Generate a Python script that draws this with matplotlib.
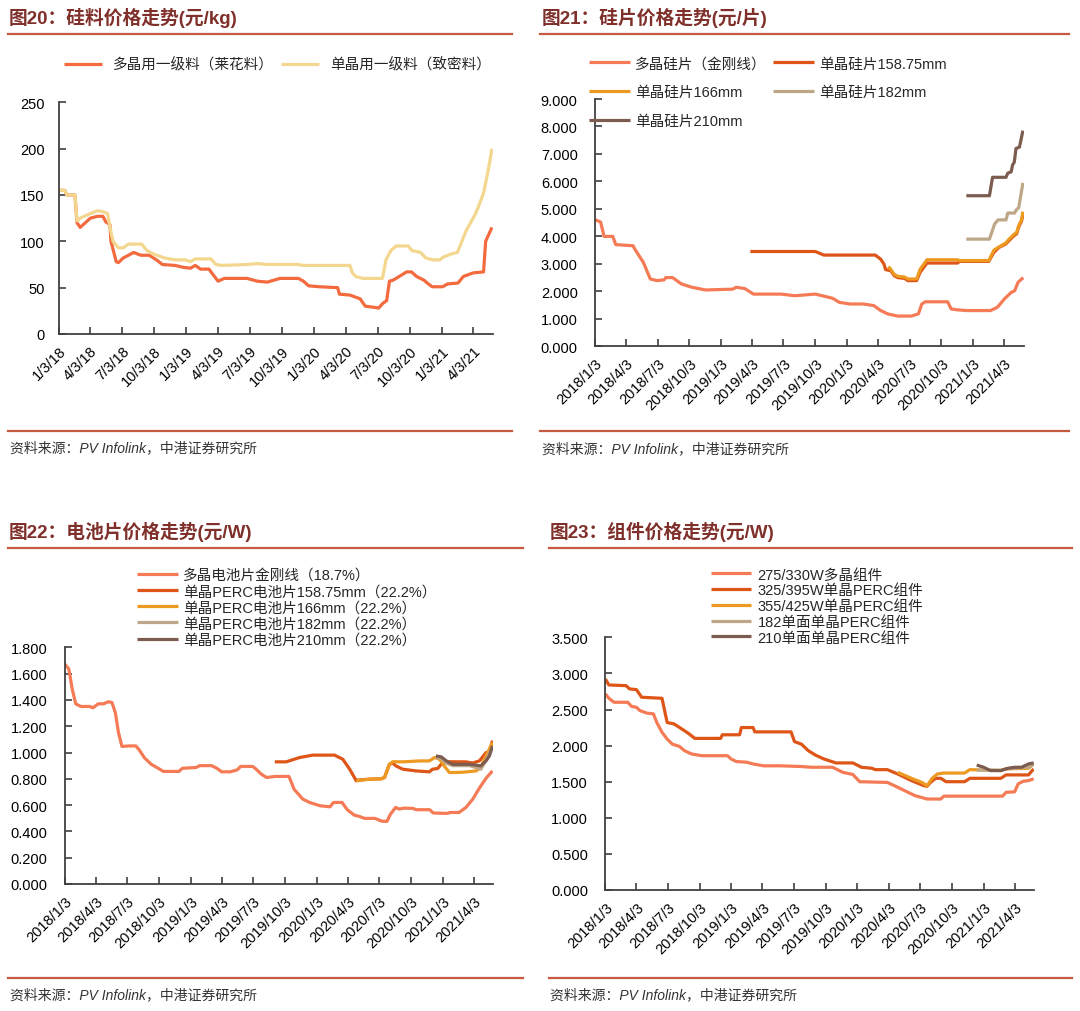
import numpy as np
import pandas as pd
import matplotlib
matplotlib.use('Agg')
import matplotlib.pyplot as plt
from matplotlib.lines import Line2D

plt.rcParams['font.family'] = ['Liberation Sans', 'Noto Sans CJK SC']
plt.rcParams['axes.unicode_minus'] = False

# ---------------- data (x = days since 2018-01-03) ----------------
BASE = '2018-01-03'

# Fig 20 silicon material (yuan/kg)
d20_poly = [0,18,24,47,53,62,91,112,127,135,147,150,165,171,185,215,235,259,280,297,
            333,356,377,391,406,430,450,456,474,539,568,597,633,686,700,715,745,798,803,833,
            862,877,898,915,927,938,946,956,965,995,1009,1024,1045,1054,1068,1098,1112,1142,1157,1171,
            1186,1215,1221,1239]
v20_poly = [155,155,150,150,120,115,125,127,127,121,118,100,78,77,82,88,85,85,80,75,
            74,72,71,74,70,70,60,57,60,60,57,56,60,60,57,52,51,50,43,42,
            38,30,29,28,33,36,57,58,60,67,67,62,58,55,51,51,54,55,62,64,
            66,67,100,115]
d20_mono = [0,18,24,47,53,62,91,112,127,140,150,156,171,185,200,238,253,274,303,333,
            362,377,391,436,450,465,539,568,597,686,700,833,840,850,870,926,936,950,965,1000,
            1010,1035,1050,1070,1090,1100,1120,1140,1148,1157,1166,1191,1200,1215,1230,1239]
v20_mono = [155,155,150,150,122,125,130,133,132,130,110,100,93,93,97,97,90,86,82,80,
            80,78,81,81,75,74,75,76,75,75,74,74,66,62,60,60,80,90,95,95,
            90,88,82,80,80,83,86,88,95,104,112,129,137,152,180,200]

# Fig 21 wafers (yuan/piece)
d21_poly = [0,16,26,51,60,110,115,140,160,180,200,205,225,250,280,320,399,409,434,459,
            539,579,638,648,688,708,738,778,808,828,848,877,917,937,947,957,1022,1032,1047,1077,
            1146,1166,1186,1206,1216,1226,1241]
v21_poly = [4.61,4.52,4.0,4.0,3.7,3.66,3.54,3.05,2.45,2.39,2.42,2.5,2.5,2.27,2.15,2.05,2.08,2.15,2.1,1.9,
            1.9,1.84,1.9,1.87,1.75,1.6,1.54,1.54,1.48,1.3,1.18,1.1,1.1,1.18,1.54,1.62,1.62,1.36,1.33,1.3,
            1.3,1.42,1.72,1.96,2.02,2.33,2.5]
d21_m158 = [450,638,648,663,812,827,837,842,857,867,877,897,907,932,942,962,1051,1056,1141,1156,
            1171,1190,1200,1212,1222,1228,1236,1240]
v21_m158 = [3.45,3.45,3.4,3.32,3.32,3.18,3.0,2.79,2.75,2.57,2.5,2.47,2.39,2.39,2.69,3.03,3.03,3.09,3.09,3.42,
            3.6,3.72,3.85,4.0,4.1,4.35,4.55,4.8]
d21_m166 = [850,857,867,877,897,907,932,942,962,1051,1056,1141,1156,1171,1190,1200,1212,1222,1228,1236,1240]
v21_m166 = [2.9,2.8,2.62,2.55,2.52,2.45,2.45,2.8,3.15,3.15,3.12,3.12,3.5,3.62,3.76,3.9,4.05,4.15,4.4,4.6,4.9]
d21_m182 = [1076,1143,1158,1168,1191,1196,1216,1220,1228,1240]
v21_m182 = [3.9,3.9,4.45,4.6,4.6,4.85,4.85,4.95,5.05,5.95]
d21_m210 = [1076,1143,1152,1191,1196,1206,1210,1215,1220,1230,1240]
v21_m210 = [5.48,5.48,6.15,6.15,6.3,6.35,6.6,6.7,7.2,7.25,7.85]

# Fig 22 cells (yuan/W)
d22_poly = [0,12,22,32,47,72,82,87,97,112,127,137,147,156,166,186,206,216,231,251,
            271,286,331,341,381,391,426,441,455,480,500,510,545,555,570,585,610,650,665,690,
            710,740,769,779,804,819,839,854,869,899,909,919,934,944,959,969,984,1009,1019,1058,
            1068,1108,1118,1143,1163,1183,1203,1223,1240]
v22_poly = [1.673,1.635,1.48,1.37,1.35,1.35,1.34,1.35,1.37,1.37,1.386,1.38,1.30,1.15,1.046,1.05,1.05,1.02,0.96,0.91,
            0.88,0.856,0.856,0.88,0.886,0.9,0.9,0.88,0.853,0.853,0.868,0.894,0.894,0.873,0.835,0.81,0.818,0.818,0.72,0.646,
            0.62,0.595,0.587,0.62,0.62,0.565,0.524,0.514,0.499,0.499,0.489,0.478,0.476,0.53,0.582,0.57,0.577,0.575,0.565,0.565,
            0.54,0.537,0.544,0.544,0.582,0.646,0.734,0.81,0.86]
d22_m158 = [609,642,681,719,782,806,826,845,848,883,917,927,941,951,960,980,1018,1057,1066,1081,
            1091,1105,1144,1163,1182,1202,1221,1230,1240]
v22_m158 = [0.929,0.929,0.962,0.98,0.98,0.949,0.873,0.785,0.79,0.797,0.80,0.81,0.91,0.92,0.898,0.873,0.86,0.853,0.873,0.878,
            0.91,0.93,0.929,0.929,0.92,0.936,0.999,1.0,1.09]
d22_m166 = [845,883,917,927,941,951,980,1028,1057,1072,1086,1100,1115,1134,1154,1192,1206,1221,1240]
v22_m166 = [0.785,0.797,0.80,0.81,0.91,0.93,0.929,0.936,0.936,0.962,0.95,0.898,0.848,0.848,0.85,0.86,0.886,0.974,1.076]
d22_m182 = [1076,1091,1105,1125,1173,1192,1206,1221,1240]
v22_m182 = [0.96,0.955,0.92,0.9,0.9,0.886,0.873,0.94,1.04]
d22_m210 = [1076,1091,1110,1125,1173,1192,1206,1221,1231,1240]
v22_m210 = [0.974,0.967,0.929,0.91,0.91,0.904,0.898,0.936,0.974,1.05]

# Fig 23 modules (yuan/W)
d23_poly = [0,10,25,65,75,90,100,120,139,149,164,179,194,214,229,249,279,354,364,379,
            409,428,458,508,568,598,658,668,688,717,737,817,837,867,897,932,972,981,1151,1161,
            1186,1196,1211,1226,1241]
v23_poly = [2.716,2.656,2.60,2.60,2.545,2.53,2.485,2.45,2.44,2.32,2.185,2.09,2.02,1.99,1.93,1.885,1.86,1.86,1.815,1.78,
            1.77,1.746,1.72,1.72,1.71,1.70,1.70,1.677,1.63,1.60,1.50,1.49,1.446,1.376,1.307,1.26,1.26,1.30,1.30,1.353,
            1.36,1.47,1.506,1.515,1.54]
d23_m325 = [0,10,60,70,90,105,164,179,199,239,259,334,339,389,394,428,433,538,548,568,
            588,608,633,668,717,723,742,772,782,817,847,887,922,932,942,957,972,987,1041,1056,
            1146,1161,1226,1241]
v23_m325 = [2.923,2.84,2.83,2.785,2.775,2.67,2.655,2.32,2.30,2.175,2.10,2.10,2.15,2.15,2.25,2.25,2.19,2.19,2.055,2.02,
            1.93,1.87,1.815,1.76,1.76,1.746,1.70,1.686,1.667,1.667,1.607,1.515,1.446,1.436,1.49,1.547,1.547,1.50,1.50,1.547,
            1.547,1.594,1.594,1.677]
d23_m355 = [847,887,917,932,947,962,981,1041,1056,1146,1161,1226,1241]
v23_m355 = [1.63,1.547,1.49,1.446,1.547,1.607,1.62,1.62,1.667,1.654,1.677,1.686,1.746]
d23_m182 = [1076,1146,1166,1226,1241]
v23_m182 = [1.66,1.66,1.68,1.70,1.74]
d23_m210 = [1076,1096,1116,1146,1166,1186,1206,1226,1241]
v23_m210 = [1.73,1.70,1.654,1.654,1.686,1.70,1.70,1.746,1.76]

labels_x20 = ['1/3/18','4/3/18','7/3/18','10/3/18','1/3/19','4/3/19','7/3/19','10/3/19',
              '1/3/20','4/3/20','7/3/20','10/3/20','1/3/21','4/3/21']
labels_x = ['2018/1/3','2018/4/3','2018/7/3','2018/10/3','2019/1/3','2019/4/3','2019/7/3','2019/10/3',
            '2020/1/3','2020/4/3','2020/7/3','2020/10/3','2021/1/3','2021/4/3']

names20 = ['多晶用一级料（莱花料）', '单晶用一级料（致密料）']
names21 = ['多晶硅片（金刚线）', '单晶硅片158.75mm', '单晶硅片166mm', '单晶硅片182mm', '单晶硅片210mm']
names22 = ['多晶电池片金刚线（18.7%）', '单晶PERC电池片158.75mm（22.2%）', '单晶PERC电池片166mm（22.2%）',
           '单晶PERC电池片182mm（22.2%）', '单晶PERC电池片210mm（22.2%）']
names23 = ['275/330W多晶组件', '325/395W单晶PERC组件', '355/425W单晶PERC组件',
           '182单面单晶PERC组件', '210单面单晶PERC组件']
titles = ['图20：硅料价格走势(元/kg)', '图21：硅片价格走势(元/片)',
          '图22：电池片价格走势(元/W)', '图23：组件价格走势(元/W)']
source = '资料来源：PV Infolink，中港证券研究所'

# ---------------- styling ----------------
C_POLY = '#F47B55'
C_158 = '#DE5518'
C_166 = '#ED9A22'
C_182 = '#BEA688'
C_210 = '#7D5C50'
C20_POLY = '#F26A3E'
C20_MONO = '#F3D78E'
TITLE_C = '#80302B'
RULE_C = '#C65A40'
SPINE_C = '#404040'
LEG_FS = 10.5

W, H = 1080, 1012
fig = plt.figure(figsize=(W / 100, H / 100), dpi=100)


def rect(l, t, r, b):
    return [l / W, 1 - b / H, (r - l) / W, (b - t) / H]


def fx(x):
    return x / W


def fy(y):
    return 1 - y / H


base = pd.Timestamp(BASE)
tick_dates = [base + pd.DateOffset(months=3 * k) for k in range(14)]
x_end = base + pd.Timedelta(days=1242)


def dates(days):
    return base + pd.to_timedelta(np.asarray(days), unit='D')


def style(ax, ymax, ystep, fmt, xlabels, ypad):
    for s in ['top', 'right']:
        ax.spines[s].set_visible(False)
    for s in ['left', 'bottom']:
        ax.spines[s].set_color(SPINE_C)
        ax.spines[s].set_linewidth(1.3)
    yt = np.arange(0, ymax + ystep / 2, ystep)
    ax.set_ylim(0, ymax)
    ax.set_yticks(yt)
    ax.set_yticklabels([fmt.format(v) for v in yt])
    ax.set_xticks(tick_dates)
    ax.set_xticklabels(xlabels, rotation=45, ha='right', va='top', rotation_mode='anchor')
    ax.set_xlim(base, x_end)
    ax.tick_params(direction='in', length=5, width=1.2, color=SPINE_C, labelsize=10.5, labelcolor='black')
    ax.tick_params(axis='y', pad=ypad)
    ax.tick_params(axis='x', pad=7)
    ax.patch.set_alpha(0)


def rule(x0, x1, y):
    fig.add_artist(Line2D([fx(x0), fx(x1)], [fy(y), fy(y)], transform=fig.transFigure,
                          color=RULE_C, lw=1.6))


def header(x, y, text, x0, x1, yb, xs):
    fig.text(fx(x), fy(y), text, fontsize=13.5, fontweight='bold', color=TITLE_C, va='center', ha='left')
    rule(x0, x1, 34.5 if y < 300 else 549)
    rule(x0, x1, yb)
    fig.text(fx(xs), fy(yb + 16.5), source, fontsize=10, style='italic', color='#333333', va='center', ha='left')


LW = 2.3
kw = dict(lw=LW, solid_joinstyle='round', solid_capstyle='butt')
legkw = dict(bbox_transform=fig.transFigure, frameon=False, fontsize=LEG_FS, borderpad=0,
             borderaxespad=0, labelcolor='#262626')

# ---- Fig 20 ----
ax20 = fig.add_axes(rect(58.5, 103.3, 493, 335))
l1, = ax20.plot(dates(d20_poly), v20_poly, color=C20_POLY, **kw)
l2, = ax20.plot(dates(d20_mono), v20_mono, color=C20_MONO, **kw)
style(ax20, 250, 50, '{:.0f}', labels_x20, 10)
ax20.legend([l1, l2], names20, loc='center left', bbox_to_anchor=(fx(64), fy(65.5)), ncol=2,
            handlelength=2.6, handletextpad=0.75, columnspacing=0.5, **legkw)
header(8.6, 18.3, titles[0], 8, 512, 431.7, 10)

# ---- Fig 21 ----
ax21 = fig.add_axes(rect(595.1, 100, 1023.6, 347.3))
a, = ax21.plot(dates(d21_poly), v21_poly, color=C_POLY, **kw)
b, = ax21.plot(dates(d21_m158), v21_m158, color=C_158, **kw)
c, = ax21.plot(dates(d21_m166), v21_m166, color=C_166, **kw)
d, = ax21.plot(dates(d21_m182), v21_m182, color=C_182, **kw)
e, = ax21.plot(dates(d21_m210), v21_m210, color=C_210, **kw)
style(ax21, 9, 1, '{:.3f}', labels_x, 12.5)
ax21.legend([a, c, e, b, d], [names21[0], names21[2], names21[4], names21[1], names21[3]],
            loc='upper left', bbox_to_anchor=(fx(589), fy(57.5)), ncol=2, handlelength=2.8,
            handletextpad=0.35, columnspacing=0.45, labelspacing=1.0, **legkw)
header(541.5, 18.3, titles[1], 540, 1068.6, 432.3, 541.5)

# ---- Fig 22 ----
ax22 = fig.add_axes(rect(64.7, 648.3, 493.2, 885))
hs = []
for dd, vv, cc in [(d22_poly, v22_poly, C_POLY), (d22_m158, v22_m158, C_158), (d22_m166, v22_m166, C_166),
                   (d22_m182, v22_m182, C_182), (d22_m210, v22_m210, C_210)]:
    h, = ax22.plot(dates(dd), vv, color=cc, **kw)
    hs.append(h)
style(ax22, 1.8, 0.2, '{:.3f}', labels_x, 12.5)
ax22.legend(hs, names22, loc='upper left', bbox_to_anchor=(fx(137), fy(569)), ncol=1,
            handlelength=2.8, handletextpad=0.35, labelspacing=0.15, **legkw)
header(8.6, 531.7, titles[2], 8, 523.4, 979, 10)

# ---- Fig 23 ----
ax23 = fig.add_axes(rect(605.4, 638.3, 1034, 891))
hs = []
for dd, vv, cc in [(d23_poly, v23_poly, C_POLY), (d23_m325, v23_m325, C_158), (d23_m355, v23_m355, C_166),
                   (d23_m182, v23_m182, C_182), (d23_m210, v23_m210, C_210)]:
    h, = ax23.plot(dates(dd), vv, color=cc, **kw)
    hs.append(h)
style(ax23, 3.5, 0.5, '{:.3f}', labels_x, 12.5)
ax23.legend(hs, names23, loc='upper left', bbox_to_anchor=(fx(711), fy(568.5)), ncol=1,
            handlelength=2.75, handletextpad=0.45, labelspacing=0.12, **legkw)
header(550, 531.7, titles[3], 548.6, 1072, 979, 550)

fig.savefig('out.png', dpi=100)
